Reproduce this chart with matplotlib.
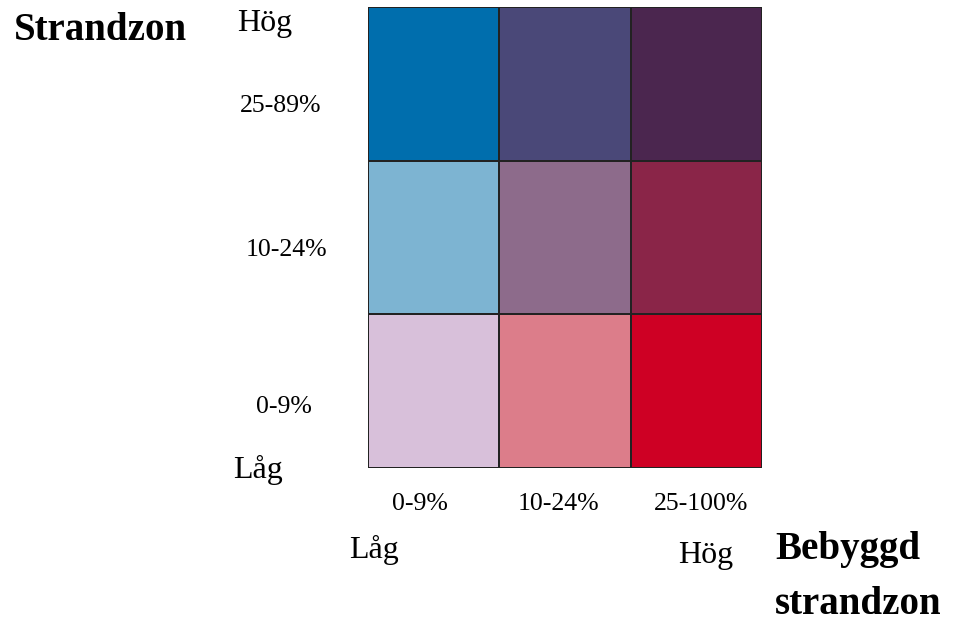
import numpy as np
import matplotlib.pyplot as plt
from matplotlib.colors import ListedColormap

# klasser for bebyggd strandzon (x) och strandzon (y)
x_labels = ['0-9%', '10-24%', '25-100%']
y_labels = ['0-9%', '10-24%', '25-89%']
# farger, nedersta raden forst
colors = [['#D8C0DA', '#DC7D8A', '#CE0024'],
          ['#7DB4D2', '#8D6B8B', '#8A2548'],
          ['#006EAD', '#4A4878', '#4B264F']]

W, H = 956, 624
fig = plt.figure(figsize=(W/100, H/100), dpi=100)
plt.rcParams['font.family'] = ['Liberation Serif', 'DejaVu Serif']

def px(x, y):
    return x / W, 1 - y / H

# rutnatet
x0, x1, y0, y1 = 368, 762, 7, 468
ax = fig.add_axes([x0/W, 1 - y1/H, (x1-x0)/W, (y1-y0)/H])
flat = [c for row in colors for c in row]
idx = np.arange(len(flat)).reshape(3, 3)
ax.pcolormesh(idx, cmap=ListedColormap(flat), edgecolors='#222222', linewidth=1.2)
ax.set_xlim(0, 3)
ax.set_ylim(0, 3)
ax.axis('off')

# y-etiketter
ypos = [407, 250, 106]
xpos = [284, 286, 281]
for lab, yy, xx in zip(y_labels, ypos, xpos):
    fig.text(*px(xx, yy), lab, fontsize=18.5, ha='center', va='center')
# x-etiketter
for lab, xx in zip(x_labels, [420, 558, 701]):
    fig.text(*px(xx, 504), lab, fontsize=18.5, ha='center', va='center')

fig.text(*px(14, 30), 'Strandzon', fontsize=28, fontweight='bold', ha='left', va='center')
fig.text(*px(265, 24), 'Hög', fontsize=23, ha='center', va='center')
fig.text(*px(258, 470), 'Låg', fontsize=23, ha='center', va='center')
fig.text(*px(374, 550), 'Låg', fontsize=23, ha='center', va='center')
fig.text(*px(706, 555), 'Hög', fontsize=23, ha='center', va='center')
fig.text(*px(775, 549), 'Bebyggd', fontsize=28, fontweight='bold', ha='left', va='center')
fig.text(*px(775, 605), 'strandzon', fontsize=28, fontweight='bold', ha='left', va='center')

fig.savefig('out.png', dpi=100, facecolor='white')
